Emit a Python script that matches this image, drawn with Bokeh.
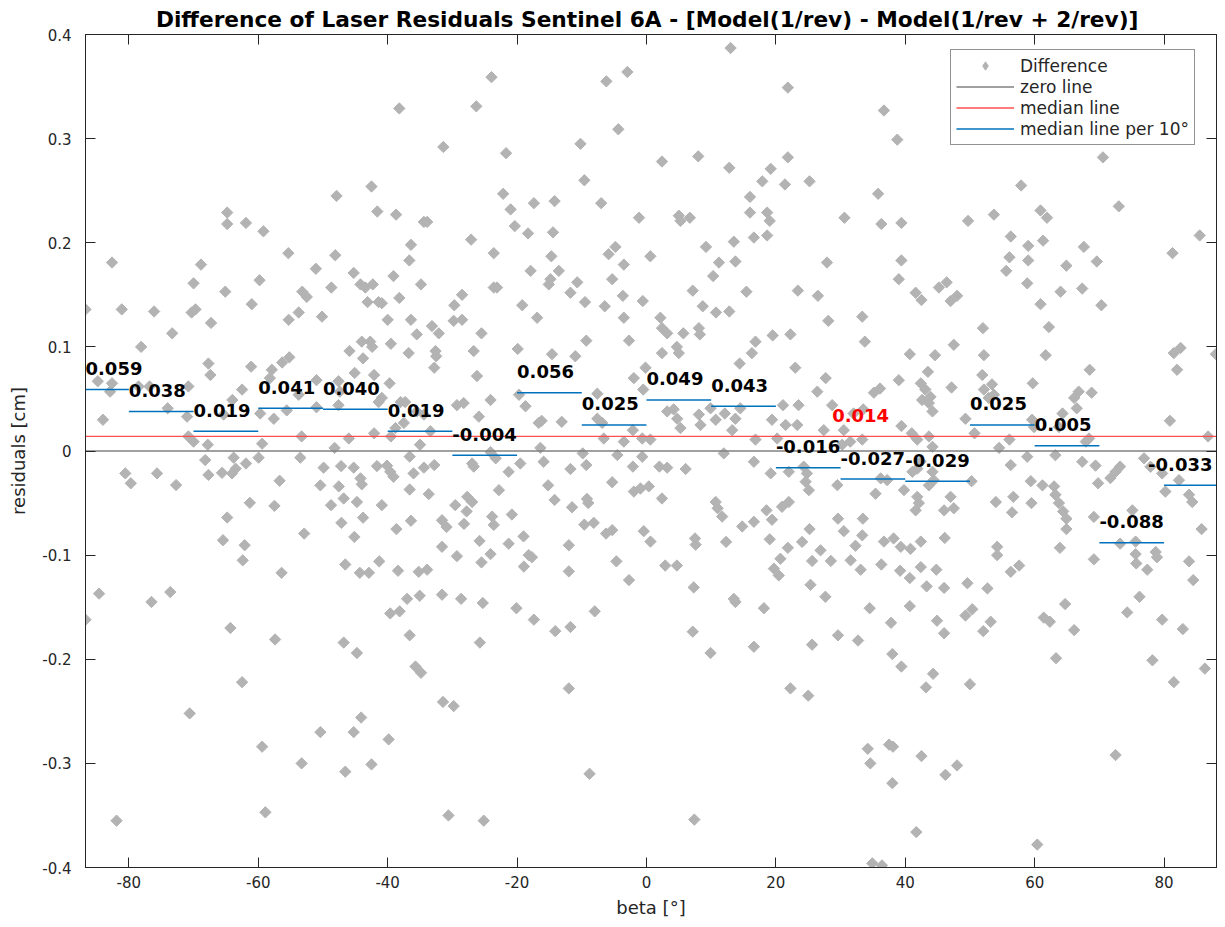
from bokeh.plotting import figure
from bokeh.models import (Label, Legend, LegendItem, LinearAxis, FixedTicker, Range1d)
from bokeh.embed import file_html
from bokeh.resources import INLINE
import numpy as np

# ---------------- data ----------------
title_text = "Difference of Laser Residuals Sentinel 6A -  [Model(1/rev) - Model(1/rev + 2/rev)]"
x_limits = [-86.7, 88.1]
y_limits = [-0.4, 0.4]
x_ticks = [-80, -60, -40, -20, 0, 20, 40, 60, 80]
x_tick_labels = ["-80", "-60", "-40", "-20", "0", "20", "40", "60", "80"]
y_ticks = [-0.4, -0.3, -0.2, -0.1, 0, 0.1, 0.2, 0.3, 0.4]
y_tick_labels = ["-0.4", "-0.3", "-0.2", "-0.1", "0", "0.1", "0.2", "0.3", "0.4"]

bin_start = [-90, -80, -70, -60, -50, -40, -30, -20, -10, 0, 10, 20, 30, 40, 50, 60, 70, 80]
bin_median = [0.059, 0.038, 0.019, 0.041, 0.040, 0.019, -0.004, 0.056, 0.025,
              0.049, 0.043, -0.016, -0.027, -0.029, 0.025, 0.005, -0.088, -0.033]
overall_median = 0.014
overall_median_label_x = 28.7

# scatter points, upper-left part
beta_a = [-38.2, -31.4, -42.5, -47.9, -41.6, -38.7, -64.8, -64.8, -61.9, -59.2, -34.4, -33.9, -36.4, -36.65,
          -55.35, -82.6, -68.85, -48.1, -51.1, -70.0, -59.8, -45.25, -39.1, -44.2, -43.45, -42.3, -34.85, -48.7,
          -65.1, -53.2, -52.5, -38.2, -86.7, -81.1, -76.1, -70.3, -69.7, -61.0, -43.1, -41.4, -40.9, -53.75,
          -55.3, -50.15, -67.3, -73.3, -40.0, -36.4, -35.5, -33.15, -32.1, -29.8, -28.5, -29.7, -78.1, -39.5,
          -45.9, -44.0, -42.7, -42.4, -43.8, -36.75, -32.6, -32.5, -32.8, -67.7, -67.4, -61.1, -57.9, -56.3,
          -55.2, -84.8, -82.6, -82.9, -78.5, -76.8, -70.8, -62.5, -64.0, -58.2, -51.0, -45.1, -42.1, -39.7,
          -47.6, -47.4, -47.6, -53.75, -74.0, -71.0, -84.0, -65.35, -59.7, -57.6, -55.6, -51.0, -41.4, -40.9,
          -38.0, -37.3, -35.5, -34.4, -29.3, -28.25, -70.8, -70.0, -67.8, -59.4, -53.3, -46.0, -42.1, -39.5,
          -38.8, -37.5, -35.0, -33.4, -48.2]
res_a = [0.329, 0.292, 0.254, 0.245, 0.230, 0.227, 0.229, 0.218, 0.219, 0.211, 0.220, 0.220, 0.198, 0.183,
         0.190, 0.181, 0.179, 0.188, 0.175, 0.161, 0.164, 0.171, 0.168, 0.160, 0.157, 0.160, 0.160, 0.157,
         0.153, 0.153, 0.148, 0.147, 0.136, 0.136, 0.134, 0.133, 0.136, 0.141, 0.143, 0.143, 0.142, 0.133,
         0.126, 0.129, 0.123, 0.113, 0.126, 0.126, 0.112, 0.120, 0.113, 0.125, 0.126, 0.140, 0.100, 0.103,
         0.096, 0.105, 0.105, 0.100, 0.089, 0.094, 0.096, 0.091, 0.080, 0.084, 0.073, 0.081, 0.078, 0.085,
         0.090, 0.067, 0.065, 0.057, 0.062, 0.062, 0.062, 0.059, 0.049, 0.070, 0.068, 0.075, 0.073, 0.065,
         0.067, 0.057, 0.044, 0.054, 0.041, 0.033, 0.030, 0.035, 0.036, 0.031, 0.039, 0.042, 0.047, 0.051,
         0.047, 0.047, 0.038, 0.035, 0.044, 0.046, 0.014, 0.009, 0.006, 0.007, 0.014, 0.012, 0.017, 0.014,
         0.022, 0.027, 0.006, 0.019, 0.003]

# upper-middle part
beta_b = [13.0, -23.95, -2.95, -6.2, 21.85, -26.3, -4.35, -10.2, -21.7, 2.4, 8.0, 12.8, 21.85, -9.6, 19.2,
          17.9, 21.4, 25.2, -22.15, -21.0, -17.4, -14.2, -7.0, -1.15, 5.0, 5.25, 6.7, 16.0, 16.0, 18.65, 19.05,
          -20.35, -18.3, -14.45, -27.1, -23.6, -14.7, -5.85, -4.8, 0.6, -3.5, 9.2, 13.5, 16.6, 18.65, 13.75,
          11.2, 27.9, -17.9, -13.55, -14.85, -15.1, -23.6, -23.1, -5.3, 10.3, -28.5, -10.7, -11.75, -9.5,
          -3.65, -0.57, -19.2, -16.9, -6.45, -3.5, 7.15, 8.7, 10.75, 12.8, 15.45, 23.4, 26.5, 28.1, -25.5,
          -26.7, -19.9, -14.6, -11.0, -9.3, -2.7, 2.15, 2.4, 3.2, 5.7, 8.1, 8.25, 2.4, 4.7, 5.0, 16.85, 16.3,
          19.5, 22.25, 14.4, -26.2, -24.1, -19.7, -18.7, -25.9, -16.65, -16.2, -13.1, -7.6, -7.6, -6.85, -1.95,
          -0.5, -0.15, -2.1, 3.2, 4.2, 4.75, 5.25, 8.1, 9.9, 10.7, 8.35, 12.1, 13.75, 13.25, 14.5, 19.4, 21.1,
          21.5, 23.3, 23.5, 26.4, 27.7, 27.4, 28.7, 23.0, -0.65, 0.6, -6.6, -3.5, 16.85, 20.2, -16.4]
res_b = [0.387, 0.359, 0.364, 0.355, 0.349, 0.331, 0.309, 0.295, 0.286, 0.278, 0.283, 0.272, 0.282, 0.260, 0.271,
         0.259, 0.256, 0.259, 0.247, 0.232, 0.238, 0.240, 0.238, 0.224, 0.226, 0.221, 0.224, 0.244, 0.229, 0.229, 0.221,
         0.216, 0.209, 0.210, 0.203, 0.190, 0.187, 0.189, 0.196, 0.187, 0.179, 0.196, 0.201, 0.205, 0.207, 0.182,
         0.181, 0.181, 0.173, 0.173, 0.165, 0.160, 0.157, 0.157, 0.165, 0.168, 0.150, 0.162, 0.152, 0.143,
         0.149, 0.144, 0.140, 0.128, 0.139, 0.128, 0.154, 0.139, 0.133, 0.134, 0.153, 0.154, 0.149, 0.125, 0.113,
         0.096, 0.098, 0.093, 0.091, 0.106, 0.106, 0.128, 0.118, 0.113, 0.113, 0.118, 0.112, 0.094, 0.100, 0.094, 0.105, 0.094,
         0.111, 0.112, 0.084, 0.072, 0.049, 0.054, 0.043, 0.033, 0.027, 0.029, 0.028, 0.055, 0.031, 0.027, 0.070,
         0.059, 0.080, 0.020, 0.038, 0.040, 0.031, 0.022, 0.035, 0.041, 0.030, 0.025, 0.036, 0.031, 0.020, 0.041, 0.030, 0.044,
         0.025, 0.025, 0.044, 0.057, 0.070, 0.020, 0.044, 0.080, 0.012, 0.011, 0.012, 0.009, 0.011, 0.012, 0.003]

# upper-right part
beta_c = [36.7, 38.76, 70.55, 57.9, 73.0, 35.8, 30.6, 36.3, 39.4, 49.7, 53.7, 60.9, 61.9, 56.3, 59.0, 61.3,
          85.5, 39.4, 56.1, 59.0, 67.6, 55.6, 64.9, 69.6, 81.3, 39.0, 58.85, 67.35, 64.0, 41.6, 42.5, 45.2,
          46.4, 47.0, 48.0, 60.9, 70.3, 33.35, 33.75, 52.0, 62.2, 40.7, 44.6, 47.5, 52.15, 61.7, 81.5, 82.55,
          82.0, 88.0, 43.5, 39.0, 35.15, 36.1, 42.4, 43.1, 42.6, 43.9, 44.2, 43.65, 47.15, 51.9, 52.15, 53.4,
          52.9, 53.7, 59.7, 68.5, 66.8, 66.1, 66.5, 68.8, 64.3, 80.9, 39.4, 41.0, 41.85, 43.65, 44.2, 49.3,
          50.7, 56.1, 54.5, 59.6, 59.9, 63.75, 68.4, 67.9, 86.8, 30.5, 30.25, 31.5, 33.35, 32.0, 33.5]
res_c = [0.327, 0.299, 0.282, 0.255, 0.235, 0.247, 0.224, 0.218, 0.219, 0.221, 0.227, 0.231, 0.224, 0.206, 0.197, 0.202,
         0.207, 0.183, 0.186, 0.183, 0.196, 0.173, 0.178, 0.182, 0.190, 0.165, 0.161, 0.156, 0.153, 0.152, 0.145, 0.157,
         0.162, 0.144, 0.149, 0.141, 0.140, 0.129, 0.105, 0.118, 0.119, 0.093, 0.092, 0.102, 0.092, 0.092, 0.094, 0.099,
         0.078, 0.093, 0.076, 0.068, 0.056, 0.060, 0.065, 0.059, 0.049, 0.052, 0.038, 0.046, 0.061, 0.073, 0.059, 0.064,
         0.051, 0.054, 0.065, 0.078, 0.057, 0.051, 0.041, 0.056, 0.036, 0.029, 0.024, 0.017, 0.011, 0.014, 0.004, 0.031,
         0.017, 0.011, 0.003, 0.030, 0.023, 0.023, 0.012, 0.009, 0.014, 0.020, 0.006, 0.009, 0.011, 0.036, 0.040]

# lower-left part
beta_d = [-80.55, -79.7, -75.65, -72.7, -68.2, -67.7, -65.6, -64.05, -63.8, -63.5, -61.9, -59.95, -56.7, -53.5,
          -49.9, -47.2, -45.25, -44.2, -44.0, -50.4, -47.55, -46.8, -41.65, -40.1, -39.6, -39.1, -36.6, -36.0,
          -36.6, -34.4, -32.8, -33.65, -61.3, -57.5, -64.8, -65.45, -62.1, -62.4, -56.4, -52.9, -48.75, -44.75,
          -43.8, -47.15, -45.15, -40.9, -38.65, -36.4, -31.6, -30.9, -31.6, -29.55, -29.3, -46.55, -44.3, -42.9,
          -41.3, -38.4, -35.2, -33.9, -37.0, -35.05, -39.6, -38.15, -31.6, -28.65, -36.6, -35.7, -34.85, -31.45,
          -29.8, -84.6, -86.7, -76.5, -73.6, -64.3, -57.4, -46.8, -44.75, -62.5, -70.6, -44.1, -50.4, -45.25,
          -39.85, -59.4, -53.3, -46.55, -42.5, -58.9, -81.9, -30.6]
res_d = [-0.0215, -0.031, -0.0215, -0.0327, -0.0087, -0.023, -0.021, -0.0215, -0.0064, -0.017, -0.012, -0.0064, -0.0286, -0.0064,
         -0.016, -0.0145, -0.016, -0.0263, -0.032, -0.033, -0.034, -0.0456, -0.0145, -0.0141, -0.020, -0.0247, -0.0054, -0.0215,
         -0.037, -0.016, -0.0135, -0.0414, -0.0498, -0.0527, -0.0639, -0.0857, -0.0905, -0.105, -0.117, -0.0793, -0.052, -0.049,
         -0.064, -0.069, -0.0825, -0.052, -0.075, -0.067, -0.0665, -0.073, -0.092, -0.052, -0.101, -0.109, -0.117, -0.117,
         -0.106, -0.115, -0.116, -0.114, -0.142, -0.139, -0.156, -0.154, -0.138, -0.142, -0.177, -0.207, -0.213, -0.241,
         -0.245, -0.137, -0.162, -0.145, -0.1355, -0.170, -0.181, -0.184, -0.194, -0.222, -0.252, -0.256, -0.270, -0.270,
         -0.277, -0.284, -0.300, -0.308, -0.301, -0.347, -0.355, -0.350]

# lower-middle part
beta_e = [-26.95, -26.7, -24.1, -23.3, -21.3, -19.5, -15.9, -22.8, -27.7, -26.95, -27.8, -28.2, -23.85, -23.6,
          -20.8, -25.8, -21.3, -19.0, -18.2, -18.95, -17.7, -24.1, -25.5, -15.2, -14.2, -11.75, -9.85, -9.3,
          -11.5, -9.2, -9.0, -9.6, -8.15, -12.0, -12.0, -5.3, -4.5, -6.25, -5.3, -4.65, -2.7, -2.1, -0.65, -1.95,
          -0.93, 0.36, 2.4, -0.42, 0.62, 2.0, 3.2, 6.05, 2.9, 4.7, 7.5, 7.6, 7.3, 10.7, 11.0, 11.7, 12.3, 11.95,
          14.8, 16.6, 16.6, 18.55, 19.4, 19.2, 20.95, 22.0, 22.0, 24.3, 24.8, 24.6, 25.1, 19.05, 21.85, 20.7,
          19.7, 20.45, 24.05, 25.2, 26.9, 25.6, 28.5, 29.5, 29.6, 25.35, 27.65, 13.5, 13.75, 18.15, -20.1, -17.4,
          -14.1, -11.75, -8.0, -25.3, -25.75, 7.15, 9.9, 16.6, 25.6, 29.6, -12.0, 22.25, 25.0, -8.8, -25.15, 7.4]
res_e = [-0.012, -0.015, -0.001, -0.007, -0.020, -0.012, -0.0103, -0.0376, -0.044, -0.049, -0.058, -0.070, -0.063, -0.071,
         -0.061, -0.0864, -0.089, -0.082, -0.100, -0.111, -0.102, -0.099, -0.107, -0.033, -0.047, -0.0173, -0.0023, -0.0135,
         -0.054, -0.046, -0.050, -0.0707, -0.069, -0.0905, -0.1156, -0.030, -0.0039, -0.0793, -0.076, -0.106, -0.124, -0.015, -0.0055, -0.039,
         -0.036, -0.034, -0.0456, -0.077, -0.087, -0.015, -0.016, -0.0173, -0.110, -0.110, -0.084, -0.090, -0.131, -0.049, -0.055, -0.063, -0.0873, -0.0023,
         -0.0725, -0.068, -0.0103, -0.057, -0.066, -0.0215, -0.0536, -0.049, -0.020, -0.015, -0.0215, -0.0295, -0.0376, -0.0848, -0.093, -0.1035,
         -0.113, -0.1195, -0.0873, -0.075, -0.0954, -0.1056, -0.1056, -0.0328, -0.065, -0.1285, -0.140, -0.142, -0.145, -0.151, -0.151, -0.162,
         -0.173, -0.169, -0.154, -0.146, -0.184, -0.1735, -0.194, -0.188, -0.186, -0.177, -0.228, -0.228, -0.235, -0.310, -0.355, -0.354]

# lower-right part
beta_f = [35.4, 36.2, 37.2, 39.8, 41.1, 41.85, 42.4, 43.65, 44.4, 44.2, 47.0, 41.85, 42.1, 41.6, 46.0, 47.5,
          50.25, 54.0, 56.3, 56.7, 56.5, 58.85, 59.4, 59.5, 61.2, 63.0, 63.2, 63.75, 64.4, 64.9, 64.9, 63.2,
          67.35, 69.4, 69.8, 71.7, 72.5, 73.2, 69.15, 76.9, 77.9, 79.7, 80.2, 82.3, 83.85, 84.35, 85.8, 75.1,
          73.2, 75.6, 75.6, 75.7, 77.4, 78.7, 78.9, 83.85, 84.5, 69.15, 63.9, 54.2, 54.2, 56.3, 57.6, 52.7,
          49.6, 46.1, 42.4, 44.8, 43.3, 46.0, 39.2, 40.7, 36.3, 33.1, 31.55, 33.45, 33.35, 32.3, 30.5, 36.7,
          38.2, 39.3, 40.8, 42.4, 34.5, 37.8, 40.7, 32.7, 44.9, 46.0, 49.3, 50.35, 52.05, 53.2, 38.0, 39.4,
          44.3, 43.2, 50.0, 61.4, 62.35, 64.7, 66.1, 63.3, 74.3, 76.2, 79.7, 82.9, 78.2, 81.5, 86.3, 34.2,
          34.6, 37.5, 38.1, 42.5, 38.0, 46.2, 48.0, 41.7, 60.4, 72.5, 34.9, 36.4]
res_f = [-0.041, -0.0263, -0.028, -0.0375, -0.020, -0.017, -0.010, -0.033, -0.028, -0.020, -0.044, -0.044, -0.050, -0.057, -0.057, -0.055,
         -0.029, -0.049, -0.0135, -0.044, -0.059, -0.0055, -0.029, -0.050, -0.033, -0.034, -0.042, -0.050, -0.058, -0.065, -0.075, -0.004,
         -0.0103, -0.014, -0.031, -0.026, -0.020, -0.015, -0.0633, -0.007, -0.0151, -0.0215, -0.039, -0.028, -0.042, -0.049, -0.075, -0.057,
         -0.089, -0.087, -0.099, -0.108, -0.114, -0.097, -0.102, -0.106, -0.124, -0.104, -0.093, -0.092, -0.100, -0.116, -0.110, -0.132,
         -0.127, -0.0835, -0.1115, -0.114, -0.130, -0.1315, -0.115, -0.122, -0.109, -0.114, -0.105, -0.065, -0.081, -0.091, -0.077, -0.087,
         -0.084, -0.092, -0.094, -0.087, -0.151, -0.165, -0.149, -0.182, -0.163, -0.175, -0.158, -0.152, -0.173, -0.164, -0.195, -0.207,
         -0.214, -0.227, -0.224, -0.160, -0.164, -0.147, -0.172, -0.199, -0.155, -0.140, -0.162, -0.171, -0.201, -0.222, -0.209, -0.286,
         -0.300, -0.282, -0.284, -0.293, -0.319, -0.311, -0.302, -0.366, -0.378, -0.292, -0.396, -0.398]

beta = beta_a + beta_b + beta_c + beta_d + beta_e + beta_f
residual = res_a + res_b + res_c + res_d + res_e + res_f

# ---------------- figure ----------------
FONT = "DejaVu Sans"
DARK = "#262626"
POINT_GRAY = "#b3b3b3"

p = figure(width=1225, height=927, output_backend="svg", toolbar_location=None,
           x_range=Range1d(*x_limits), y_range=Range1d(*y_limits),
           min_border_left=85, min_border_right=9, min_border_top=34, min_border_bottom=60,
           background_fill_color="white", border_fill_color="white")

p.title.text = title_text
p.title.align = "center"
p.title.text_font = FONT
p.title.text_font_size = "21.7px"
p.title.text_font_style = "bold"
p.title.text_color = "black"
p.title.standoff = 6

p.xgrid.visible = False
p.ygrid.visible = False
p.outline_line_color = DARK
p.outline_line_width = 1

def style_axis(ax, ticks, labels):
    ax.ticker = FixedTicker(ticks=ticks)
    ax.major_label_overrides = {t: l for t, l in zip(ticks, labels)}
    ax.major_tick_in = 10
    ax.major_tick_out = 0
    ax.minor_tick_in = 0
    ax.minor_tick_out = 0
    ax.major_tick_line_color = DARK
    ax.axis_line_color = DARK
    ax.major_label_text_font = FONT
    ax.major_label_text_color = DARK
    ax.major_label_text_font_size = "15px"
    ax.axis_label_text_font = FONT
    ax.axis_label_text_font_style = "normal"
    ax.axis_label_text_color = DARK
    ax.axis_label_text_font_size = "18px"

def tick_only_axis(ax, ticks):
    # ticks drawn as minor ticks so that no labels are produced
    ax.ticker = FixedTicker(ticks=[], minor_ticks=ticks)
    ax.major_tick_in = 0
    ax.major_tick_out = 0
    ax.minor_tick_in = 10
    ax.minor_tick_out = 0
    ax.minor_tick_line_color = DARK
    ax.axis_line_color = DARK
    ax.major_label_standoff = 0

style_axis(p.xaxis[0], x_ticks, x_tick_labels)
style_axis(p.yaxis[0], y_ticks, y_tick_labels)
p.xaxis[0].axis_label = "beta [°]"
p.yaxis[0].axis_label = "residuals [cm]"
p.xaxis[0].major_label_standoff = 8
p.xaxis[0].axis_label_standoff = 6
p.yaxis[0].major_label_standoff = 14
p.yaxis[0].axis_label_standoff = 10

top_axis = LinearAxis()
tick_only_axis(top_axis, x_ticks)
p.add_layout(top_axis, "above")
right_axis = LinearAxis()
tick_only_axis(right_axis, y_ticks)
p.add_layout(right_axis, "right")

# points (diamonds)
pts = p.scatter(beta, residual, marker="square", angle=np.pi / 4, size=8,
                fill_color=POINT_GRAY, line_color=POINT_GRAY, line_width=1)
# legend-only diamond (legend glyphs are never rotated); its single row is NaN, so
# nothing is drawn in the axes
pts_legend = p.scatter([np.nan], [np.nan], marker="diamond", size=16,
                       fill_color=POINT_GRAY, line_color=POINT_GRAY, line_width=1)

# zero line & overall median
zero_r = p.line(x_limits, [0, 0], line_color="#808080", line_width=1.5)
med_r = p.line(x_limits, [overall_median, overall_median], line_color="#ff5050", line_width=1.3)

# per-bin median lines
bin_end = [b + 10 for b in bin_start]
seg_r = p.segment(x0=bin_start, y0=bin_median, x1=bin_end, y1=bin_median,
                  line_color="#0072bd", line_width=1.5)

# value labels; annotations are clipped to the axes box, so the outermost
# labels are nudged inwards to stay fully readable
n_bins = len(bin_start)
for i, (xs, m) in enumerate(zip(bin_start, bin_median)):
    x_off = -16 if i == n_bins - 1 else 0
    p.add_layout(Label(x=max(xs, x_limits[0]), y=m, x_offset=x_off, y_offset=21,
                       text="%.3f" % m,
                       text_font=FONT, text_font_size="18px", text_font_style="bold",
                       text_color="black", text_align="left", text_baseline="middle"))

p.add_layout(Label(x=overall_median_label_x, y=overall_median, y_offset=21,
                   text="%.3f" % overall_median, text_font=FONT, text_font_size="18px",
                   text_font_style="bold", text_color="#ff0000",
                   text_align="left", text_baseline="middle"))

legend = Legend(items=[LegendItem(label="Difference", renderers=[pts_legend]),
                       LegendItem(label="zero line", renderers=[zero_r]),
                       LegendItem(label="median line", renderers=[med_r]),
                       LegendItem(label="median line per 10°", renderers=[seg_r])],
                location=(865, 722))
legend.border_line_color = DARK
legend.border_line_width = 1
legend.background_fill_alpha = 1
legend.label_text_font = FONT
legend.label_text_font_size = "17px"
legend.label_text_color = DARK
legend.glyph_width = 58
legend.glyph_height = 21
legend.label_height = 21
legend.label_standoff = 6
legend.padding = 5
legend.spacing = 0
legend.margin = 0
p.add_layout(legend)

open("out.html", "w").write(file_html(p, INLINE))
